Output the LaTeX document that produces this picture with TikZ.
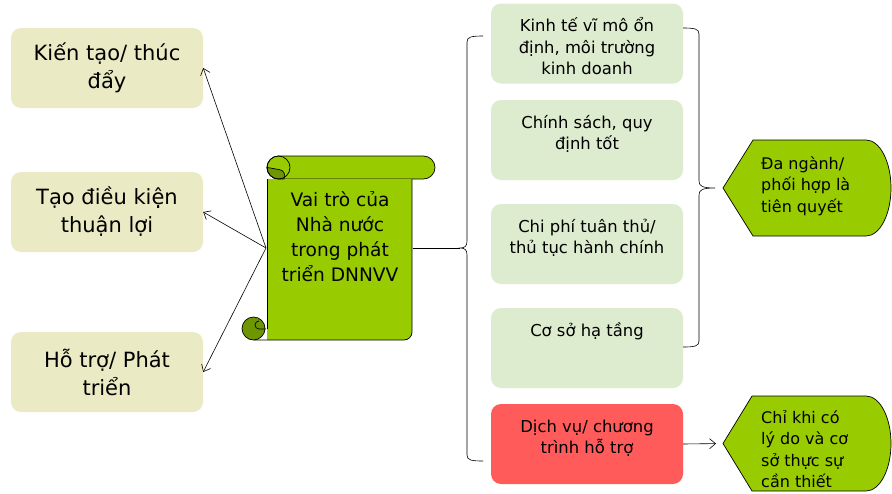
\documentclass[tikz,border=0pt]{standalone}
\usepackage{fontspec}
\setmainfont{DejaVu Sans}
\usetikzlibrary{arrows.meta}
\definecolor{leftc}{HTML}{EAEAC4}
\definecolor{rightc}{HTML}{DDEBCE}
\definecolor{redc}{HTML}{FF5B5B}
\definecolor{greenc}{HTML}{99CC00}
\definecolor{darkg}{HTML}{6E9600}
\tikzset{
  leftbox/.style={fill=leftc, rounded corners=10pt, minimum width=192pt, minimum height=80pt, inner sep=0pt, align=center, font=\fontsize{21}{28}\selectfont},
  rightbox/.style={fill=rightc, rounded corners=10pt, inner sep=0pt},
  shapeline/.style={draw=black, line width=0.7pt},
  conn/.style={draw=black, line width=0.6pt},
  arr/.style={conn, -{Straight Barb[length=6pt,width=10pt]}},
  hextext/.style={anchor=west, align=left, inner sep=0pt, font=\fontsize{16}{21.5}\selectfont},
}
\newcommand{\rbtext}[1]{\parbox[c][80pt][t]{192pt}{\centering\fontsize{16.4}{21.5}\selectfont\rule{0pt}{28pt}#1}}
\begin{document}
\begin{tikzpicture}[x=1pt,y=-1pt]
\useasboundingbox (0,0) rectangle (892,493);
% left boxes
\node[leftbox] (b1) at (107,68) {Kiến tạo/ thúc\\đẩy};
\node[leftbox] (b2) at (107,212) {Tạo điều kiện\\thuận lợi};
\node[leftbox] (b3) at (107,372) {Hỗ trợ/ Phát\\triển};
% right boxes
\node[rightbox] (r1) at (587,43.5) {\rbtext{Kinh tế vĩ mô ổn\\định, môi trường\\kinh doanh}};
\node[rightbox] (r2) at (587,140) {\rbtext{Chính sách, quy\\định tốt}};
\node[rightbox] (r3) at (587,244) {\rbtext{Chi phí tuân thủ/\\thủ tục hành chính}};
\node[rightbox] (r4) at (587,348) {\rbtext{Cơ sở hạ tầng}};
\node[rightbox, fill=redc] (r5) at (587,444) {\rbtext{Dịch vụ/ chương\\trình hỗ trợ}};
% scroll
\filldraw[shapeline, fill=greenc, rounded corners=11.5pt] (267,156) rectangle (435,179);
\fill[greenc] (267,179) -- (267,340) -- (404,340) arc[start angle=90, end angle=0, radius=8] -- (412,179) -- cycle;
\draw[shapeline] (254,340) -- (404,340) arc[start angle=90, end angle=0, radius=8] -- (412,179);
\draw[shapeline] (267,179) -- (267,329);
\filldraw[shapeline, fill=darkg] (267,167.5) arc[start angle=180, end angle=90, radius=11.5] -- (284,179) .. controls (286,175) and (284,170) .. (279,169.5) .. controls (275,169) and (271,168) .. (267,167.5);
\draw[shapeline] (278.5,167.5) circle[radius=11.5];
\filldraw[shapeline, fill=darkg] (253.5,328.5) circle[radius=11.5];
\draw[shapeline] (266,329) -- (259,329) arc[start angle=90, end angle=270, radius=4];
\node[align=center, inner sep=0pt, font=\fontsize{18.6}{25}\selectfont] (scroll) at (340,237) {Vai trò của\\Nhà nước\\trong phát\\triển DNNVV};
\coordinate (sL) at (266,248);
\coordinate (sR) at (412.5,248);
% display shapes
\filldraw[shapeline, fill=greenc] (723,188) -- (753,140) -- (866,140) arc[start angle=-90, end angle=90, x radius=25, y radius=48] -- (753,236) -- cycle;
\filldraw[shapeline, fill=greenc] (723,443.5) -- (752,396) -- (866,396) arc[start angle=-90, end angle=90, x radius=25, y radius=47.5] -- (752,491) -- cycle;
\coordinate (h1tip) at (723,188);
\coordinate (h2tip) at (723,443.5);
\node[hextext] (h1) at (761,186) {Đa ngành/\\phối hợp là\\tiên quyết};
\node[hextext] (h2) at (761,449) {Chỉ khi có\\lý do và cơ\\sở thực sự\\cần thiết};
% connectors
\draw[arr] (sL) -- (b1.east);
\draw[arr] (sL) -- (b2.east);
\draw[arr] (sL) -- (b3.east);
\coordinate (lbTip) at (460,248);
\draw[conn] (sR) -- (lbTip);
\draw[conn] (483,36) .. controls (471,36) and (467,37) .. (467,42) -- (467,241) .. controls (467,246) and (465,248) .. (lbTip) .. controls (465,248) and (467,250) .. (467,255) -- (467,455) .. controls (467,460) and (471,461) .. (483,461);
\coordinate (rbTip) at (715,188);
\draw[conn] (r1.east |- 0,28) .. controls (695,28) and (699,29) .. (699,34) -- (699,181) .. controls (699,186) and (702,188) .. (rbTip) .. controls (702,188) and (699,190) .. (699,195) -- (699,341) .. controls (699,346) and (695,347) .. (r4.east |- 0,347);
\draw[arr, shorten >=7pt] (r5.east) -- (h2tip);
\end{tikzpicture}
\end{document}
